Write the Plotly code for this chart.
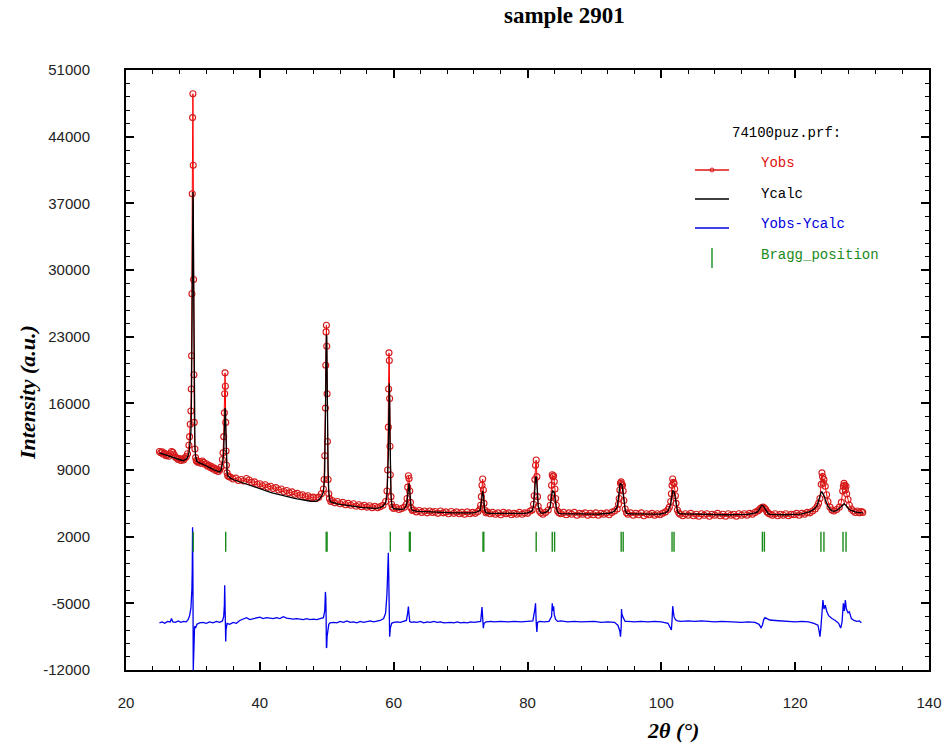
import plotly.graph_objects as go

# ---------------- data ----------------
tt_obs = [
    25.0, 25.2, 25.4, 25.6, 25.8, 26.0, 26.2, 26.4, 26.6, 26.8, 27.0, 27.2, 27.4, 27.6, 27.8, 28.0, 28.2, 28.4, 28.6, 28.8, 29.0, 29.2, 29.4,
    29.5, 29.6, 29.7, 29.75, 29.8, 29.85, 29.9, 29.95, 30.0, 30.05, 30.1, 30.15, 30.2, 30.3, 30.4, 30.5, 30.6, 30.8,
    31.0, 31.2, 31.4, 31.6, 31.8, 32.0, 32.2, 32.4, 32.6, 32.8, 33.0, 33.2, 33.4, 33.6, 33.8, 34.0, 34.2, 34.4,
    34.5, 34.6, 34.7, 34.75, 34.8, 34.85, 34.9, 34.95, 35.0, 35.1, 35.2, 35.4,
    35.6, 36.0, 36.4, 36.8, 37.2, 37.6, 38.0, 38.4, 38.8, 39.2, 39.6, 40.0, 40.4, 40.8, 41.2, 41.6, 42.0, 42.4,
    42.8, 43.2, 43.6, 44.0, 44.4, 44.8, 45.2, 45.6, 46.0, 46.4, 46.8, 47.2, 47.6, 48.0, 48.4, 48.8, 49.2,
    49.5, 49.6, 49.7, 49.8, 49.85, 49.9, 49.95, 50.0, 50.05, 50.1, 50.2, 50.3, 50.4, 50.6,
    50.8, 51.2, 51.6, 52.0, 52.4, 52.8, 53.2, 53.6, 54.0, 54.4, 54.8, 55.2, 55.6, 56.0, 56.4, 56.8, 57.2, 57.6, 58.0, 58.4, 58.8,
    59.0, 59.1, 59.2, 59.25, 59.3, 59.35, 59.4, 59.45, 59.5, 59.6, 59.7, 59.8, 60.0,
    60.4, 60.8, 61.2, 61.6,
    61.9, 62.0, 62.1, 62.2, 62.3, 62.4, 62.5, 62.6, 62.8,
    63.0, 63.4, 63.8, 64.2, 64.6, 65.0, 65.4, 65.8, 66.2, 66.6, 67.0, 67.4, 67.8, 68.2, 68.6, 69.0, 69.4, 69.8,
    70.2, 70.6, 71.0, 71.4, 71.8, 72.2, 72.6,
    72.9, 73.0, 73.1, 73.2, 73.3, 73.4, 73.5, 73.6, 73.8,
    74.0, 74.4, 74.8, 75.2, 75.6, 76.0, 76.4, 76.8, 77.2, 77.6, 78.0, 78.4, 78.8, 79.2, 79.6, 80.0, 80.4,
    80.7, 80.9, 81.0, 81.1, 81.2, 81.3, 81.4, 81.5, 81.6, 81.8, 82.0,
    82.3, 82.7, 83.1,
    83.4, 83.5, 83.6, 83.7, 83.8, 83.9, 84.0, 84.1, 84.2, 84.3, 84.5, 84.7,
    85.0, 85.4, 85.8, 86.2, 86.6, 87.0, 87.4, 87.8, 88.2, 88.6, 89.0, 89.4, 89.8, 90.2, 90.6, 91.0, 91.4, 91.8,
    92.2, 92.6, 93.0,
    93.4, 93.6, 93.7, 93.8, 93.9, 94.0, 94.1, 94.2, 94.3, 94.4, 94.6, 94.8,
    95.0, 95.4, 95.8, 96.2, 96.6, 97.0, 97.4, 97.8, 98.2, 98.6, 99.0, 99.4, 99.8, 100.2, 100.6, 101.0,
    101.2, 101.4, 101.5, 101.6, 101.7, 101.8, 101.9, 102.0, 102.1, 102.2, 102.4, 102.6,
    102.8, 103.2, 103.6, 104.0, 104.4, 104.8, 105.2, 105.6, 106.0, 106.4, 106.8, 107.2, 107.6, 108.0, 108.4,
    108.8, 109.2, 109.6, 110.0, 110.4, 110.8, 111.2, 111.6, 112.0, 112.4, 112.8, 113.2, 113.6, 114.0, 114.4,
    114.6, 114.8, 115.0, 115.2, 115.4, 115.6, 115.8, 116.0, 116.3,
    116.6, 117.0, 117.4, 117.8, 118.2, 118.6, 119.0, 119.4, 119.8, 120.2, 120.6, 121.0, 121.4, 121.8, 122.2,
    122.6, 123.0,
    123.3, 123.5, 123.7, 123.9, 124.0, 124.1, 124.2, 124.3, 124.5, 124.7, 124.9, 125.2, 125.5,
    125.8, 126.2, 126.6,
    126.9, 127.1, 127.2, 127.3, 127.4, 127.5, 127.6, 127.7, 127.9, 128.1, 128.4,
    128.7, 129.0, 129.3, 129.6, 129.9, 130.1,
]

y_obs = [
    10950, 10800, 10900, 10650, 10750, 10500, 10600, 10450, 10700, 10950, 10850, 10600, 10350, 10250, 10100, 10200, 10000, 10150, 10050, 10250, 10400, 10700, 11600,
    12500, 13800, 15200, 17500, 21000, 27500, 38000, 46000, 48500, 41000, 29000, 19000, 14000, 11200, 10300, 10000, 9900, 9800,
    9900, 9700, 9950, 9800, 9600, 9650, 9400, 9500, 9250, 9350, 9100, 9200, 8950, 9050, 8850, 9000, 9300, 10100,
    10800, 12500, 15000, 17000, 19200, 17800, 14000, 11000, 9500, 8700, 8400, 8300,
    8250, 8050, 8150, 7900, 8000, 7850, 8100, 7950, 7700, 7750, 7500, 7550, 7350, 7450, 7200, 7300, 7050, 7150,
    6900, 7000, 6750, 6850, 6600, 6700, 6450, 6550, 6350, 6400, 6200, 6300, 6100, 6150, 6000, 6150, 6500,
    7000, 8000, 10500, 15500, 20000, 23500, 24200, 22000, 17000, 12000, 8000, 6500, 6000, 5700,
    5800, 5550, 5700, 5450, 5600, 5350, 5500, 5300, 5450, 5200, 5350, 5150, 5300, 5100, 5250, 5050, 5200, 5050, 5150, 5300, 5700,
    6800, 9000, 13500, 17500, 21300, 20500, 16500, 11500, 8500, 6200, 5400, 5100, 4950,
    5050, 4850, 4950, 5100,
    5400, 6000, 7200, 8400, 8100, 6800, 5600, 5000, 4750,
    4800, 4600, 4750, 4550, 4700, 4500, 4700, 4550, 4650, 4450, 4700, 4500, 4600, 4400, 4650, 4450, 4600, 4400,
    4550, 4350, 4600, 4400, 4550, 4450, 4650,
    4900, 5300, 6200, 7400, 8050, 6900, 5500, 4800, 4500,
    4600, 4400, 4550, 4350, 4500, 4300, 4550, 4400, 4500, 4300, 4450, 4350, 4550, 4350, 4500, 4450, 4700,
    4800, 5400, 6300, 8000, 9500, 10050, 8300, 6200, 5200, 4700, 4500,
    4350, 4550, 4800,
    5300, 6100, 7400, 8500, 8300, 8400, 7800, 7000, 6000, 5300, 4700, 4500,
    4400, 4550, 4300, 4500, 4350, 4550, 4250, 4450, 4350, 4500, 4250, 4450, 4300, 4500, 4250, 4450, 4350, 4500,
    4300, 4550, 4700,
    4900, 5400, 6000, 6900, 7600, 7750, 7500, 7400, 6800, 5800, 4900, 4500,
    4350, 4500, 4250, 4450, 4300, 4500, 4200, 4400, 4300, 4450, 4250, 4400, 4300, 4450, 4600, 4850,
    5100, 5700, 6500, 7400, 8050, 7700, 7600, 7000, 6300, 5500, 4800, 4500,
    4350, 4200, 4400, 4250, 4450, 4200, 4350, 4150, 4400, 4250, 4400, 4150, 4350, 4250, 4450,
    4200, 4350, 4150, 4400, 4250, 4350, 4150, 4400, 4250, 4400, 4250, 4450, 4350, 4550, 4700,
    4800, 4950, 5050, 5100, 5000, 4850, 4600, 4450, 4350,
    4250, 4400, 4200, 4350, 4250, 4400, 4200, 4350, 4300, 4450, 4250, 4450, 4350, 4550, 4500,
    4700, 4900,
    5200, 5500, 6000, 7500, 8700, 8300, 7600, 8000, 7300, 6400, 5700, 5100, 4800,
    4700, 4850, 5100,
    5600, 6800, 7300, 7600, 7400, 6900, 7300, 6500, 5900, 5300, 4900,
    4700, 4550, 4700, 4500, 4650, 4550,
]

y_calc = [
    10800, 10750, 10700, 10650, 10600, 10550, 10500, 10450, 10400, 10350, 10300, 10250, 10200, 10150, 10100, 10050, 10000, 10000, 10000, 10050, 10150, 10350, 10800,
    11300, 12000, 13000, 14500, 17000, 22000, 28000, 36000, 38200, 37000, 30000, 21000, 15000, 11500, 10400, 10000, 9900, 9800,
    9750, 9700, 9650, 9600, 9500, 9450, 9350, 9300, 9200, 9150, 9050, 9000, 8900, 8850, 8800, 8800, 8950, 9500,
    10000, 11000, 12800, 14500, 15500, 15300, 13800, 11500, 9800, 8800, 8400, 8250,
    8150, 8000, 7900, 7800, 7700, 7600, 7500, 7400, 7300, 7200, 7100, 7000, 6900, 6820, 6740, 6660, 6580, 6500,
    6420, 6350, 6280, 6210, 6140, 6080, 6020, 5960, 5900, 5850, 5800, 5750, 5720, 5700, 5720, 5850, 6200,
    6700, 7400, 9000, 13000, 17500, 21500, 23200, 23000, 19500, 14500, 9000, 6800, 6000, 5650,
    5600, 5520, 5450, 5400, 5350, 5300, 5260, 5220, 5180, 5140, 5110, 5080, 5050, 5020, 5000, 4990, 4980, 4990, 5050, 5200, 5550,
    6300, 7800, 10500, 13500, 16500, 18100, 16800, 12500, 9000, 6400, 5500, 5100, 4950,
    4900, 4860, 4850, 4950,
    5250, 5700, 6500, 7400, 7600, 6900, 5800, 5050, 4750,
    4700, 4680, 4660, 4640, 4620, 4600, 4590, 4580, 4570, 4560, 4550, 4540, 4530, 4520, 4510, 4500, 4495, 4490,
    4485, 4480, 4480, 4485, 4500, 4540, 4620,
    4750, 5100, 5700, 6500, 6800, 6400, 5400, 4800, 4500,
    4470, 4460, 4450, 4445, 4440, 4435, 4430, 4425, 4420, 4420, 4420, 4425, 4430, 4440, 4460, 4500, 4600,
    4700, 5200, 5900, 7000, 8200, 8300, 7600, 6200, 5200, 4700, 4500,
    4470, 4550, 4750,
    5100, 5700, 6400, 6800, 6700, 6800, 6600, 6100, 5500, 5000, 4600, 4450,
    4420, 4410, 4400, 4400, 4395, 4390, 4385, 4380, 4380, 4375, 4370, 4370, 4370, 4375, 4380, 4390, 4400, 4420,
    4460, 4540, 4700,
    5100, 5900, 6700, 7400, 7600, 7500, 7450, 7100, 6300, 5500, 4800, 4450,
    4420, 4400, 4390, 4380, 4370, 4360, 4355, 4350, 4350, 4350, 4355, 4360, 4380, 4420, 4500, 4700,
    5000, 5400, 5900, 6500, 6800, 6800, 6700, 6400, 5900, 5300, 4700, 4450,
    4400, 4390, 4380, 4370, 4360, 4350, 4340, 4330, 4320, 4310, 4300, 4300, 4300, 4300, 4300,
    4300, 4300, 4300, 4300, 4300, 4300, 4300, 4310, 4320, 4330, 4350, 4380, 4420, 4500, 4600,
    4800, 5050, 5300, 5250, 5050, 4800, 4550, 4400, 4350,
    4330, 4320, 4310, 4300, 4300, 4300, 4300, 4310, 4320, 4340, 4360, 4400, 4450, 4520, 4620,
    4780, 5000,
    5300, 5800, 6400, 6700, 6700, 6600, 6500, 6300, 5900, 5500, 5200, 4900, 4700,
    4650, 4750, 4950,
    5200, 5400, 5450, 5450, 5400, 5350, 5300, 5200, 5000, 4850, 4750,
    4650, 4600, 4560, 4530, 4500, 4490,
]

tt_diff = [
    25.0, 25.4, 25.8, 26.2, 26.6, 26.8, 27.0, 27.4, 27.8, 28.2, 28.6, 29.0, 29.3, 29.5, 29.7, 29.8, 29.85, 29.9,
    29.95, 30.0, 30.05, 30.1, 30.15, 30.25, 30.4, 30.6, 31.0, 31.5, 32.0, 32.5, 33.0, 33.5, 34.0, 34.4,
    34.6, 34.7, 34.75, 34.8, 34.85, 34.9, 34.95, 35.1, 35.5, 36.0, 36.5, 37.0, 37.5, 38.0, 38.5, 39.0,
    39.5, 40.0, 40.5, 41.0, 41.5, 42.0, 42.5, 43.0, 43.5, 44.0, 44.5, 45.0, 45.5, 46.0, 46.5, 47.0,
    47.5, 48.0, 48.5, 49.0, 49.5, 49.7, 49.8, 49.85, 49.9, 49.95, 50.0, 50.05, 50.15, 50.3, 50.5, 51.0,
    51.5, 52.0, 52.5, 53.0, 53.5, 54.0, 54.5, 55.0, 55.5, 56.0, 56.5, 57.0, 57.5, 58.0, 58.5, 58.8,
    59.0, 59.1, 59.2, 59.25, 59.3, 59.35, 59.4, 59.5, 59.7, 60.0, 60.5, 61.0, 61.5, 61.9, 62.1, 62.2,
    62.3, 62.4, 62.6, 63.0, 63.5, 64.0, 64.5, 65.0, 65.5, 66.0, 66.5, 67.0, 67.5, 68.0, 68.5, 69.0,
    69.5, 70.0, 70.5, 71.0, 71.5, 72.0, 72.5, 73.0, 73.2, 73.3, 73.4, 73.5, 73.8, 74.5, 75.0, 76.0,
    77.0, 78.0, 79.0, 80.0, 80.8, 81.1, 81.2, 81.3, 81.4, 81.5, 81.8, 82.5, 83.2, 83.6, 83.7, 83.8,
    83.9, 84.0, 84.2, 84.5, 85.0, 86.0, 87.0, 88.0, 89.0, 90.0, 91.0, 92.0, 93.0, 93.5, 93.8, 93.9,
    94.0, 94.05, 94.1, 94.3, 94.6, 95.0, 96.0, 97.0, 98.0, 99.0, 100.0, 101.0, 101.3, 101.5, 101.6, 101.7,
    101.8, 101.9, 102.1, 102.4, 103.0, 104.0, 105.0, 106.0, 107.0, 108.0, 109.0, 110.0, 111.0, 112.0, 113.0, 114.0,
    114.6, 114.9, 115.1, 115.3, 115.5, 115.8, 116.2, 117.0, 118.0, 119.0, 120.0, 121.0, 122.0, 122.8, 123.4, 123.6,
    123.7, 123.85, 124.0, 124.15, 124.3, 124.5, 124.7, 125.0, 125.5, 126.0, 126.5, 126.8, 127.0, 127.2, 127.35, 127.5,
    127.65, 127.9, 128.1, 128.4, 128.8, 129.2, 129.6, 129.9,
]

y_diff = [
    -7050, -6950, -7100, -6900, -6950, -6600, -6950, -7000, -6850, -7000, -6900, -6950, -6700, -6300, -5500, -4500, -3500, -1500,
    3000, -2000, -12000, -10500, -8500, -7400, -7600, -7200, -7050, -7000, -7100, -6950, -7050, -6900, -7000, -6850,
    -6400, -5200, -3100, -4500, -7500, -9000, -7800, -7100, -7200, -7000, -7100, -6800, -6650, -6500, -6700, -6600,
    -6500, -6450, -6600, -6500, -6550, -6600, -6500, -6600, -6400, -6550, -6600, -6650, -6600, -6650, -6700, -6600,
    -6700, -6650, -6700, -6600, -6500, -5800, -3800, -4300, -6000, -9700, -9600, -8500, -7600, -7200, -7050, -7000,
    -7050, -6900, -7000, -6850, -7000, -6950, -7050, -6900, -7000, -6950, -6850, -6950, -6900, -6800, -6600, -6000,
    -4000, -2000, 300, -1500, -4500, -7500, -8500, -7600, -7100, -7000, -6950, -7000, -6900, -6800, -6000, -5350,
    -6200, -6900, -7000, -6950, -7000, -6900, -7050, -6950, -7000, -6900, -7000, -6950, -7050, -7000, -7000, -7050,
    -6950, -7050, -7000, -7050, -6950, -7000, -6950, -6900, -5400, -6200, -7600, -7100, -6950, -6900, -6950, -6900,
    -6950, -6900, -6950, -6900, -6850, -5600, -5000, -7000, -8000, -7000, -6900, -6950, -6900, -6400, -5000, -5800,
    -5300, -6200, -6700, -6900, -6850, -6950, -6900, -6950, -6950, -6900, -7000, -6950, -7000, -7300, -7900, -8500,
    -7500, -5600, -6100, -6500, -6900, -6900, -6950, -6900, -6950, -6900, -6950, -7100, -7500, -7800, -6800, -5300,
    -5900, -6400, -6700, -6850, -6900, -6850, -6900, -6850, -6900, -6950, -6900, -6950, -6950, -7000, -6950, -7000,
    -7200, -7550, -7300, -6700, -6500, -6600, -6750, -6800, -6850, -6900, -6950, -6900, -6950, -7100, -7300, -8000,
    -8500, -7500, -5500, -4650, -5600, -5200, -5800, -6300, -6600, -6800, -7100, -7600, -7000, -5000, -5800, -4650,
    -5600, -6000, -5900, -6600, -6800, -6900, -6850, -7050,
]

bragg_positions = [30.05, 34.9, 49.92, 50.05, 59.5, 62.35, 62.48, 73.35, 73.47, 81.3,
                   83.7, 84.05, 94.0, 94.3, 101.6, 101.9, 115.1, 115.4, 123.85, 124.3,
                   127.15, 127.6]

x_ticks = [20, 40, 60, 80, 100, 120, 140]
y_ticks = [-12000, -5000, 2000, 9000, 16000, 23000, 30000, 37000, 44000, 51000]

for name, a, b in (("obs", tt_obs, y_obs), ("calc", tt_obs, y_calc), ("diff", tt_diff, y_diff)):
    if len(a) != len(b):
        raise ValueError(f"{name}: {len(a)} vs {len(b)}")

# ---------------- styling ----------------
BRAGG_LOW, BRAGG_HIGH = 420, 2520
W, H = 950, 750
PL, PR, PT, PB = 126, 929, 70, 670   # plot frame in page pixels
L, R, T, B = PL, W - PR, PT, H - PB


def px(xp):
    return (xp - PL) / (PR - PL)


def py(yp):
    return (PB - yp) / (PB - PT)


bx, by = [], []
for p in bragg_positions:
    bx += [p, p, None]
    by += [BRAGG_LOW, BRAGG_HIGH, None]

fig = go.Figure()
fig.add_trace(go.Scatter(
    x=tt_obs, y=y_obs, mode="lines+markers", name="Yobs",
    line=dict(color="#ff0000", width=1),
    marker=dict(symbol="circle-open", size=6, color="#d41a1a", line=dict(width=1.1)),
))
fig.add_trace(go.Scatter(x=tt_obs, y=y_calc, mode="lines", name="Ycalc",
                         line=dict(color="#000000", width=1.3)))
fig.add_trace(go.Scatter(x=tt_diff, y=y_diff, mode="lines", name="Yobs-Ycalc",
                         line=dict(color="#0000ee", width=1.3)))
fig.add_trace(go.Scatter(x=bx, y=by, mode="lines", name="Bragg_position",
                         line=dict(color="#1a8a1a", width=1.4)))

axis_common = dict(
    showline=True, linecolor="black", linewidth=2, mirror="allticks",
    ticks="inside", ticklen=8, tickwidth=1.5, tickcolor="black",
    showgrid=False, zeroline=False, automargin=False,
    tickfont=dict(family="Liberation Sans, Arial, sans-serif", size=15, color="#222222"),
)

fig.update_xaxes(
    range=[20, 140], tickmode="array", tickvals=x_ticks, ticktext=[str(v) for v in x_ticks],
    minor=dict(dtick=4, tick0=20, ticks="inside", ticklen=4, tickcolor="black", tickwidth=1, showgrid=False),
    ticklabelstandoff=18,
    **axis_common,
)
fig.update_yaxes(
    range=[-12000, 51000], tickmode="array", tickvals=y_ticks, ticktext=[str(v) for v in y_ticks],
    minor=dict(dtick=1400, tick0=-12000, ticks="inside", ticklen=4, tickcolor="black", tickwidth=1, showgrid=False),
    ticklabelstandoff=31,
    **axis_common,
)

serif = "Liberation Serif, Times New Roman, serif"
mono = "Liberation Mono, Courier New, monospace"
annotations = [
    dict(x=px(673), y=py(730), xref="paper", yref="paper", text="<b><i>2θ (°)</i></b>",
         showarrow=False, xanchor="center", yanchor="middle",
         font=dict(family=serif, size=22, color="black")),
    dict(x=px(27), y=py(393), xref="paper", yref="paper", text="<b><i>Intensity (a.u.)</i></b>",
         showarrow=False, xanchor="center", yanchor="middle", textangle=-90,
         font=dict(family=serif, size=22, color="black")),
    dict(x=px(730), y=py(133), xref="paper", yref="paper", text="74100puz.prf:",
         showarrow=False, xanchor="left", yanchor="middle",
         font=dict(family=mono, size=14, color="black")),
    dict(x=px(564), y=py(16), xref="paper", yref="paper", text="<b>sample 2901</b>",
         showarrow=False, xanchor="center", yanchor="middle",
         font=dict(family=serif, size=23, color="black")),
]

# legend drawn as text + sample glyphs
legend_rows = [
    ("Yobs", "#e01010", 163, 170),
    ("Ycalc", "#000000", 194, 199),
    ("Yobs-Ycalc", "#0000dd", 224, 228),
    ("Bragg_position", "#1a8a1a", 255, None),
]
shapes = []
for label, col, ty, ly in legend_rows:
    annotations.append(dict(x=px(759), y=py(ty), xref="paper", yref="paper", text=label,
                            showarrow=False, xanchor="left", yanchor="middle",
                            font=dict(family=mono, size=14, color=col)))
    if ly is not None:
        shapes.append(dict(type="line", xref="paper", yref="paper", x0=px(695), x1=px(729),
                           y0=py(ly), y1=py(ly), line=dict(color=col, width=1.3)))
shapes.append(dict(type="line", xref="paper", yref="paper", x0=px(712), x1=px(712),
                   y0=py(248), y1=py(268), line=dict(color="#1a8a1a", width=1.4)))
shapes.append(dict(type="circle", xref="paper", yref="paper", x0=px(710), x1=px(714),
                   y0=py(168), y1=py(172), line=dict(color="#d41a1a", width=1)))

fig.update_layout(
    width=W, height=H,
    margin=dict(l=L, r=R, t=T, b=B),
    paper_bgcolor="white", plot_bgcolor="white",
    showlegend=False,
    hovermode=False,
    annotations=annotations,
    shapes=shapes,
)

fig.write_html(
    "out.html",
    config={"displayModeBar": False},
    post_script="document.body.style.margin='0';document.body.style.overflow='hidden';",
)
